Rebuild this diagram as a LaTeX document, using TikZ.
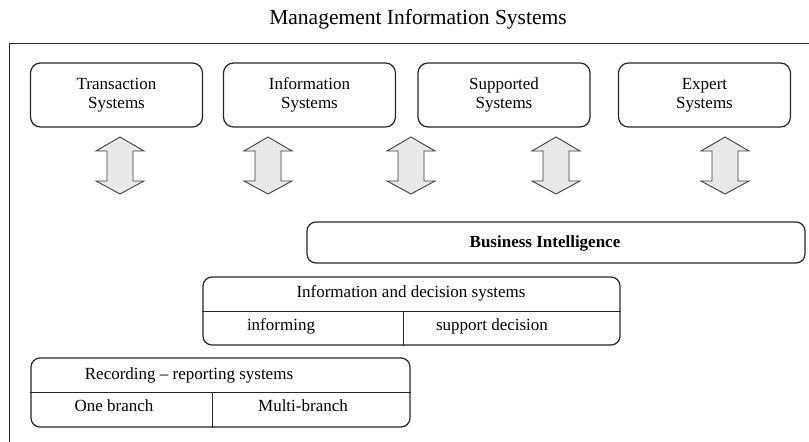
\documentclass[tikz,border=0pt]{standalone}
\usepackage{fontspec}
\setmainfont{Liberation Serif}
\begin{document}
\begin{tikzpicture}[x=1pt,y=-1pt,
  frame/.style={line width=1pt, draw=black!85},
  topbox/.style={draw=black!85, line width=1.2pt, rounded corners=10pt, minimum width=172pt, minimum height=64pt, align=center, font=\fontsize{17}{19}\selectfont, inner sep=0pt},
  bibox/.style={draw=black!85, line width=1.2pt, rounded corners=9pt, minimum width=498pt, minimum height=41pt, inner sep=0pt},
  splitbox/.style={draw=black!85, line width=1.2pt, rounded corners=9pt, inner sep=0pt},
  divider/.style={draw=black!85, line width=1pt},
  lbl/.style={font=\fontsize{17}{19}\selectfont, inner sep=0pt},
  dblarrow/.style={draw=black!75, fill=black!9, line width=0.9pt, line join=miter}
]
\useasboundingbox (0,0) rectangle (809,442);
% title
\node[font=\fontsize{21.5}{24}\selectfont, inner sep=0pt] (title) at (418,19) {Management Information Systems};
% frame
\draw[frame] (809,43) -- (9,43) -- (9,442);
% top boxes
\node[topbox] (ts) at (116.5,95) {Transaction\\Systems};
\node[topbox] (is) at (309.5,95) {Information\\Systems};
\node[topbox] (ss) at (504,95) {Supported\\Systems};
\node[topbox] (es) at (704.5,95) {Expert\\Systems};
% double arrows
\foreach \c in {120,268,411,556,725}{
  \draw[dblarrow] (\c,137) -- (\c+24,151) -- (\c+13,151) -- (\c+13,181) -- (\c+24,181)
    -- (\c,194) -- (\c-24,181) -- (\c-13,181) -- (\c-13,151) -- (\c-24,151) -- cycle;
}
% business intelligence
\node[bibox] (bi) at (556,242.5) {};
\node[lbl, font=\fontsize{17}{19}\selectfont\bfseries] (bit) at (545,243) {Business Intelligence};
% information and decision systems
\node[splitbox, minimum width=417pt, minimum height=68pt] (ids) at (411.5,311) {};
\draw[divider] (ids.west |- 0,311) -- (ids.east |- 0,311);
\draw[divider] (403,311) -- (ids.south -| 403,0);
\node[lbl] (idst) at (411,293) {Information and decision systems};
\node[lbl] (inf) at (281,326) {informing};
\node[lbl] (sup) at (492,326) {support decision};
% recording - reporting systems
\node[splitbox, minimum width=379pt, minimum height=69pt] (rrs) at (220.5,392.5) {};
\draw[divider] (rrs.west |- 0,392) -- (rrs.east |- 0,392);
\draw[divider] (212,392) -- (rrs.south -| 212,0);
\node[lbl] (rrst) at (189,375) {Recording -- reporting systems};
\node[lbl] (one) at (114,406) {One branch};
\node[lbl] (multi) at (303,406) {Multi-branch};
\end{tikzpicture}
\end{document}
